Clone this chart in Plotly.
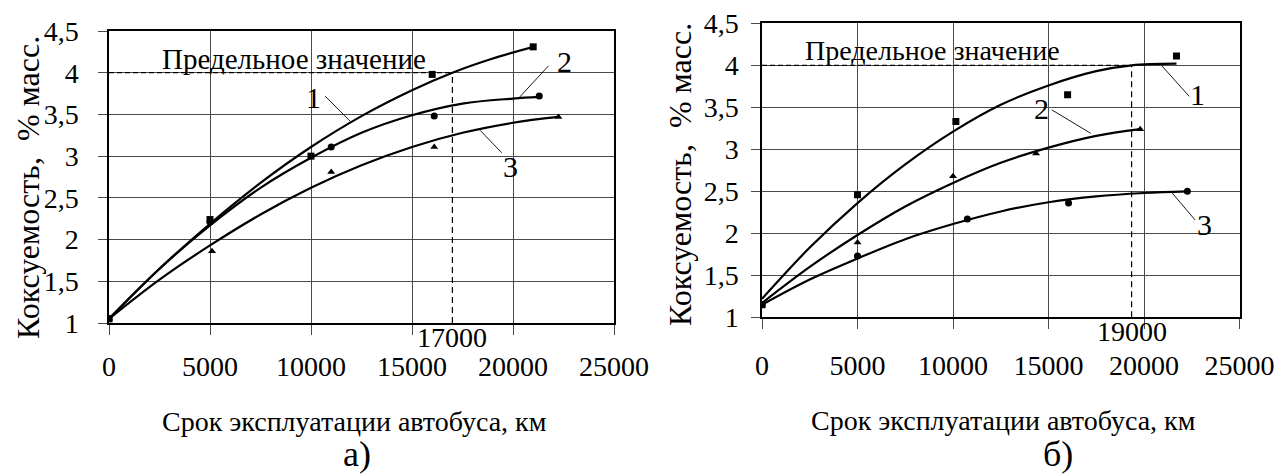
import plotly.graph_objects as go

W, H = 1278, 475
FONT = "Liberation Serif"

# ---------- ticks ----------
X_TICKS = [0, 5000, 10000, 15000, 20000, 25000]
X_TICK_TEXT = ["0", "5000", "10000", "15000", "20000", "25000"]
Y_TICKS = [1, 1.5, 2, 2.5, 3, 3.5, 4, 4.5]
Y_TICK_TEXT = ["1", "1,5", "2", "2,5", "3", "3,5", "4", "4,5"]

LIMIT = 4.0
LIMIT_TEXT = "Предельное значение"
Y_TITLE = "Коксуемость,  % масс."
X_TITLE = "Срок эксплуатации автобуса, км"

# ---------- chart a) ----------
A_S1_X = [0, 5000, 10000, 16000, 21000]
A_S1_Y = [1.05, 2.24, 3.00, 3.98, 4.31]
A_S2_X = [0, 5000, 11000, 16100, 21300]
A_S2_Y = [1.05, 2.21, 3.11, 3.48, 3.72]
A_S3_X = [0, 5100, 11000, 16100, 22250]
A_S3_Y = [1.05, 1.86, 2.81, 3.11, 3.47]

A_C1_X = [0, 2500, 5000, 7500, 10000, 12500, 15000, 17000, 19000, 21000]
A_C1_Y = [1.05, 1.65, 2.19, 2.68, 3.11, 3.48, 3.79, 4.00, 4.17, 4.31]
A_C2_X = [0, 2500, 5000, 7500, 10000, 12500, 15000, 17500, 20000, 21300]
A_C2_Y = [1.05, 1.65, 2.17, 2.62, 2.98, 3.28, 3.49, 3.63, 3.69, 3.71]
A_C3_X = [0, 2500, 5000, 7500, 10000, 12500, 15000, 17500, 20000, 22250]
A_C3_Y = [1.05, 1.52, 1.93, 2.30, 2.62, 2.89, 3.11, 3.28, 3.40, 3.47]

A_CROSS_X = 17000
A_CROSS_TEXT = "17000"
A_LABELS = ["1", "2", "3"]
A_LABEL_X = [10100, 22570, 19890]
A_LABEL_Y = [3.70, 4.13, 2.87]
A_LEAD_X = [[10700, 11930], [21750, 20260], [19440, 18370]]
A_LEAD_Y = [[3.72, 3.42], [4.08, 3.69], [3.04, 3.31]]
A_LIMIT_TEXT_X = 9180
A_LIMIT_TEXT_Y = 4.17

# ---------- chart б) ----------
B_S1_X = [0, 5000, 10150, 16000, 21700]
B_S1_Y = [1.15, 2.46, 3.33, 3.65, 4.11]
B_S2_X = [0, 5000, 10000, 14350, 19800]
B_S2_Y = [1.15, 1.89, 2.68, 2.95, 3.24]
B_S3_X = [0, 5000, 10750, 16050, 22270]
B_S3_Y = [1.15, 1.73, 2.17, 2.36, 2.50]

B_C1_X = [0, 2500, 5000, 7500, 10000, 12500, 15000, 17500, 19350, 21700]
B_C1_Y = [1.22, 1.83, 2.36, 2.82, 3.21, 3.53, 3.76, 3.93, 4.00, 4.02]
B_C2_X = [0, 2500, 5000, 7500, 10000, 12500, 15000, 17500, 19800]
B_C2_Y = [1.17, 1.60, 1.98, 2.32, 2.60, 2.84, 3.02, 3.16, 3.24]
B_C3_X = [0, 2500, 5000, 7500, 10000, 12500, 15000, 17500, 20000, 22270]
B_C3_Y = [1.15, 1.45, 1.70, 1.93, 2.11, 2.26, 2.37, 2.44, 2.48, 2.50]

B_CROSS_X = 19350
B_CROSS_TEXT = "19000"
B_LABELS = ["1", "2", "3"]
B_LABEL_X = [22790, 14610, 23190]
B_LABEL_Y = [3.65, 3.49, 2.10]
B_LEAD_X = [[22370, 20930], [15170, 17210], [22670, 21400]]
B_LEAD_Y = [[3.63, 3.995], [3.47, 3.19], [2.16, 2.50]]
B_LIMIT_TEXT_X = 8920
B_LIMIT_TEXT_Y = 4.18

fig = go.Figure()


def add_chart(xa, ya, series, curves, cross_x, leads_x, leads_y):
    for cx, cy in curves:
        fig.add_trace(go.Scatter(x=cx, y=cy, mode="lines", xaxis=xa, yaxis=ya,
                                 line=dict(color="black", width=2.2, shape="spline"),
                                 hoverinfo="skip", showlegend=False))
    for sx, sy, sym in series:
        fig.add_trace(go.Scatter(x=sx, y=sy, mode="markers", xaxis=xa, yaxis=ya,
                                 marker=dict(symbol=sym, size=7, color="black"),
                                 showlegend=False))
    # limit dashed lines
    fig.add_trace(go.Scatter(x=[0, cross_x], y=[LIMIT, LIMIT], mode="lines",
                             xaxis=xa, yaxis=ya, showlegend=False, hoverinfo="skip",
                             line=dict(color="black", width=1.2, dash="5px,3px")))
    fig.add_trace(go.Scatter(x=[cross_x, cross_x], y=[Y_TICKS[0], LIMIT], mode="lines",
                             xaxis=xa, yaxis=ya, showlegend=False, hoverinfo="skip",
                             line=dict(color="black", width=1.2, dash="6px,4px")))
    for lx, ly in zip(leads_x, leads_y):
        fig.add_trace(go.Scatter(x=lx, y=ly, mode="lines", xaxis=xa, yaxis=ya,
                                 line=dict(color="black", width=0.9),
                                 hoverinfo="skip", showlegend=False))


add_chart("x", "y",
          [(A_S1_X, A_S1_Y, "square"), (A_S2_X, A_S2_Y, "circle"), (A_S3_X, A_S3_Y, "triangle-up")],
          [(A_C1_X, A_C1_Y), (A_C2_X, A_C2_Y), (A_C3_X, A_C3_Y)],
          A_CROSS_X, A_LEAD_X, A_LEAD_Y)
add_chart("x2", "y2",
          [(B_S1_X, B_S1_Y, "square"), (B_S2_X, B_S2_Y, "triangle-up"), (B_S3_X, B_S3_Y, "circle")],
          [(B_C1_X, B_C1_Y), (B_C2_X, B_C2_Y), (B_C3_X, B_C3_Y)],
          B_CROSS_X, B_LEAD_X, B_LEAD_Y)

GRID = "#4a4a4a"
TICKF = dict(family=FONT, size=28, color="black")


def xaxis(domain, anchor, standoff):
    return dict(domain=domain, anchor=anchor, range=[0, 25000], tickvals=X_TICKS,
                ticktext=X_TICK_TEXT, showgrid=True, gridcolor=GRID, gridwidth=1,
                showline=True, linecolor="black", linewidth=1.5, mirror=True,
                ticks="outside", ticklen=10, tickcolor=GRID, tickwidth=1, automargin=False,
                tickfont=TICKF, ticklabelstandoff=standoff, zeroline=False, fixedrange=True)


def yaxis(domain, anchor, standoff):
    return dict(domain=domain, anchor=anchor, range=[1, 4.5], tickvals=Y_TICKS,
                ticktext=Y_TICK_TEXT, showgrid=True, gridcolor=GRID, gridwidth=1,
                showline=True, linecolor="black", linewidth=1.5, mirror=True,
                ticks="outside", ticklen=9, tickcolor=GRID, tickwidth=1, automargin=False,
                tickfont=TICKF, ticklabelstandoff=standoff, zeroline=False, fixedrange=True)


def px_x(p):
    return p / W


def px_y(p):
    return (H - p) / H


annotations = []
for xa, ya, labels, lx, ly, ltx, lty, lsize, cx, ctext in [
    ("x", "y", A_LABELS, A_LABEL_X, A_LABEL_Y, A_LIMIT_TEXT_X, A_LIMIT_TEXT_Y, 29, A_CROSS_X, A_CROSS_TEXT),
    ("x2", "y2", B_LABELS, B_LABEL_X, B_LABEL_Y, B_LIMIT_TEXT_X, B_LIMIT_TEXT_Y, 28, B_CROSS_X, B_CROSS_TEXT),
]:
    for t, x, y in zip(labels, lx, ly):
        annotations.append(dict(text=t, x=x, y=y, xref=xa, yref=ya, showarrow=False,
                                xanchor="center", yanchor="middle",
                                font=dict(family=FONT, size=30, color="black")))
    annotations.append(dict(text=LIMIT_TEXT, x=ltx, y=lty, xref=xa, yref=ya, showarrow=False,
                            xanchor="center", yanchor="middle",
                            font=dict(family=FONT, size=lsize, color="black")))
    annotations.append(dict(text=ctext, x=cx, y=Y_TICKS[0], xref=xa, yref=ya, showarrow=False,
                            xanchor="center", yanchor="top", yshift=3,
                            font=dict(family=FONT, size=28, color="black")))

# axis titles and panel captions
for cx, cy in [(28, 188), (680, 175)]:
    annotations.append(dict(text=Y_TITLE, x=px_x(cx), y=px_y(cy), xref="paper", yref="paper",
                            textangle=-90, showarrow=False, xanchor="center", yanchor="middle",
                            font=dict(family=FONT, size=32, color="black")))
for cx, cy in [(354, 421.7), (1003, 420)]:
    annotations.append(dict(text=X_TITLE, x=px_x(cx), y=px_y(cy), xref="paper", yref="paper",
                            showarrow=False, xanchor="center", yanchor="middle",
                            font=dict(family=FONT, size=28, color="black")))
for t, cx, cy in [("а)", 357, 454), ("б)", 1057.5, 454)]:
    annotations.append(dict(text=t, x=px_x(cx), y=px_y(cy), xref="paper", yref="paper",
                            showarrow=False, xanchor="center", yanchor="middle",
                            font=dict(family=FONT, size=36, color="black")))

fig.update_layout(
    width=W, height=H, margin=dict(l=0, r=0, t=0, b=0, autoexpand=False),
    paper_bgcolor="white", plot_bgcolor="white", showlegend=False,
    font=dict(family=FONT, color="black"),
    xaxis=xaxis([px_x(109), px_x(614)], "y", 8),
    yaxis=yaxis([px_y(323), px_y(31)], "x", 14),
    xaxis2=xaxis([px_x(762), px_x(1239.5)], "y2", 12),
    yaxis2=yaxis([px_y(317.3), px_y(23.3)], "x2", 7),
    annotations=annotations,
)

fig.write_html("out.html")
